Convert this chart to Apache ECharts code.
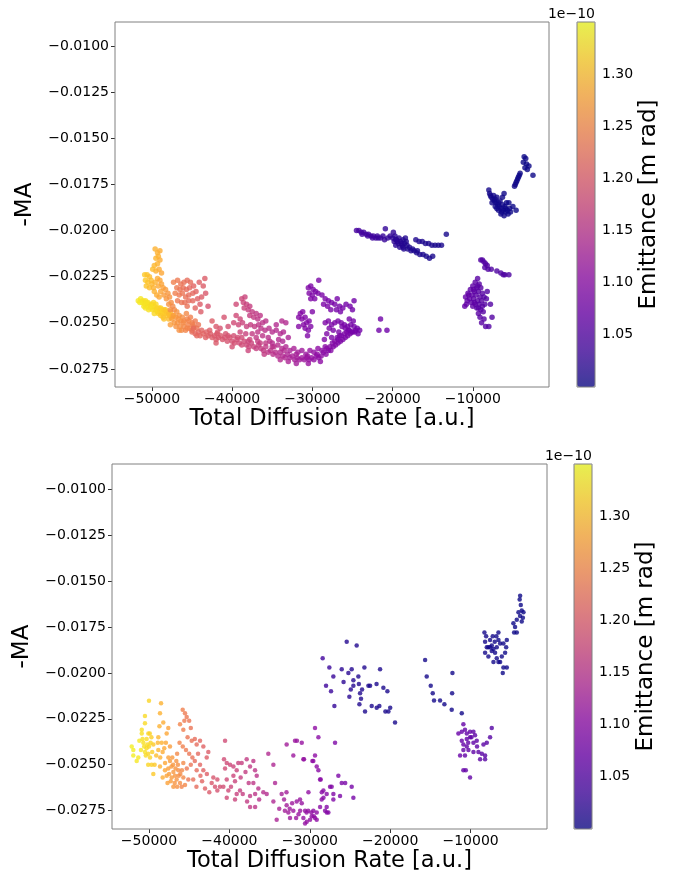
<!DOCTYPE html>
<html><head><meta charset="utf-8">
<script src="https://cdn.jsdelivr.net/npm/echarts@6/dist/echarts.min.js"></script>
<style>html,body{margin:0;padding:0;background:#fff}#c{width:680px;height:876px}</style>
</head><body><div id="c"></div>
<script>
// Each point: [Total Diffusion Rate, -MA, Emittance (x1e-10 m rad)]
// ---------- TOP PANEL ----------
const topYellow = [[-51700,-.0238,1.335],[-51400,-.0237,1.335],[-51100,-.0238,1.33],[-51200,-.0239,1.333],[-50800,-.0238,1.33],[-50900,-.0240,1.332],[-50500,-.0239,1.33],[-50600,-.0241,1.33],[-50300,-.0240,1.328],[-50200,-.0242,1.33],[-50000,-.0240,1.325],[-49900,-.0243,1.327],[-49700,-.0241,1.322],[-49600,-.0243,1.325],[-49400,-.0242,1.32],[-49300,-.0244,1.322],[-49100,-.0242,1.318],[-49000,-.0244,1.32],[-48800,-.0243,1.315],[-48700,-.0245,1.318],[-48500,-.0243,1.31],[-48400,-.0245,1.312],[-48200,-.0244,1.305],[-48100,-.0246,1.308],[-47900,-.0245,1.3],[-47800,-.0246,1.3],[-47600,-.0247,1.295],[-50400,-.0243,1.33],[-49200,-.0245,1.318],[-48900,-.0246,1.31],[-51000,-.0241,1.333],[-49800,-.0239,1.322],[-48600,-.0247,1.305],
[-51500,-.0239,1.335],[-50700,-.0239,1.332],[-50100,-.0241,1.328],[-49500,-.0240,1.322],[-48900,-.0242,1.316],[-48300,-.0243,1.308],[-47700,-.0244,1.298],[-50800,-.0242,1.332],[-49700,-.0245,1.322],[-48500,-.0248,1.305],[-47900,-.0248,1.298],[-47400,-.0246,1.29]];
const topOrangeBranch = [[-49600,-.0210,1.29],[-49300,-.0212,1.29],[-49000,-.0211,1.285],[-49200,-.0214,1.29],[-49500,-.0215,1.292],[-49000,-.0216,1.285],[-49300,-.0218,1.29],[-49700,-.0219,1.295],[-49900,-.0221,1.298],[-49500,-.0222,1.29],[-49100,-.0221,1.285],[-48800,-.0223,1.28],[-50900,-.0224,1.31],[-50600,-.0224,1.305],[-50300,-.0225,1.3],[-50800,-.0227,1.31],[-50500,-.0228,1.305],[-50100,-.0227,1.3],[-50700,-.0230,1.305],[-50300,-.0231,1.3],[-50000,-.0229,1.295],[-49800,-.0231,1.29],[-49600,-.0228,1.29],[-49700,-.0233,1.29],[-49300,-.0226,1.285],[-49000,-.0227,1.28],[-48800,-.0229,1.278],[-49200,-.0230,1.283],[-48600,-.0231,1.275],[-48900,-.0233,1.278],[-49400,-.0235,1.285],[-48300,-.0232,1.27],[-48500,-.0235,1.27],[-48000,-.0234,1.265],[-48200,-.0237,1.265],[-47800,-.0236,1.26],[-47600,-.0239,1.255],[-47900,-.0240,1.26],[-47400,-.0241,1.25],[-47700,-.0243,1.255],[-47200,-.0243,1.25],[-49100,-.0236,1.28]];
const topOrangeBlob = [[-47500,-.0248,1.27],[-47000,-.0247,1.265],[-46600,-.0246,1.26],[-46200,-.0247,1.255],[-47200,-.0250,1.265],[-46800,-.0250,1.26],[-46400,-.0249,1.255],[-46000,-.0249,1.25],[-45600,-.0248,1.245],[-47000,-.0252,1.26],[-46500,-.0252,1.255],[-46000,-.0252,1.25],[-45500,-.0251,1.245],[-45000,-.0250,1.24],[-45800,-.0254,1.245],[-45300,-.0253,1.24],[-44800,-.0252,1.235],[-44400,-.0253,1.23],[-45000,-.0254,1.235],[-46300,-.0254,1.25],[-45700,-.0245,1.25],[-46900,-.0244,1.26],[-44600,-.0249,1.235],[-45200,-.0247,1.24],
[-47300,-.0246,1.27],[-46700,-.0248,1.262],[-46100,-.0250,1.252],[-45400,-.0249,1.245],[-44900,-.0251,1.238],[-45600,-.0253,1.245],[-46600,-.0254,1.258],[-44200,-.0251,1.23],[-47700,-.0251,1.272]];
const topRedPink = [[-47300,-.0228,1.24],[-46800,-.0227,1.235],[-46400,-.0229,1.23],[-46000,-.0228,1.225],[-45600,-.0227,1.22],[-45200,-.0228,1.22],[-46900,-.0231,1.235],[-46500,-.0232,1.23],[-46100,-.0231,1.225],[-45700,-.0232,1.22],[-45300,-.0231,1.215],[-44800,-.0230,1.21],[-47100,-.0234,1.24],[-46600,-.0235,1.235],[-46200,-.0234,1.23],[-45800,-.0236,1.225],[-45400,-.0235,1.22],[-44900,-.0234,1.215],[-44500,-.0233,1.21],[-46800,-.0238,1.235],[-46300,-.0239,1.23],[-45900,-.0239,1.225],[-45400,-.0238,1.22],[-44900,-.0238,1.215],[-44300,-.0237,1.205],[-44000,-.0240,1.2],[-45600,-.0241,1.225],[-44600,-.0242,1.21],[-43400,-.0226,1.2],[-43600,-.0230,1.2],[-43300,-.0234,1.195],[-43800,-.0236,1.2],[-43000,-.0241,1.19],[-44100,-.0228,1.205],[-43900,-.0244,1.2]];
const topBand = [[-45000,-.0255,1.22],[-44600,-.0256,1.215],[-44200,-.0255,1.212],[-44000,-.0257,1.21],[-43600,-.0256,1.21],[-43300,-.0258,1.205],[-43000,-.0257,1.205],[-42700,-.0256,1.2],[-42500,-.0258,1.2],[-42200,-.0257,1.198],[-42000,-.0259,1.198],[-41700,-.0258,1.195],[-41400,-.0257,1.195],[-41200,-.0259,1.192],[-40900,-.0258,1.19],[-40600,-.0260,1.19],[-40300,-.0258,1.188],[-40000,-.0260,1.185],[-39700,-.0261,1.185],[-39400,-.0259,1.182],[-39100,-.0261,1.18],[-38800,-.0262,1.178],[-38500,-.0260,1.178],[-38200,-.0262,1.175],[-37900,-.0263,1.172],[-37600,-.0261,1.17],[-37300,-.0263,1.17],[-37000,-.0264,1.165],[-36700,-.0262,1.165],[-36400,-.0264,1.162],[-36100,-.0265,1.16],[-35800,-.0263,1.158],[-35500,-.0266,1.155],[-35200,-.0265,1.152],[-34900,-.0267,1.15],[-34600,-.0266,1.148],[-34300,-.0268,1.145],[-34000,-.0266,1.142],[-33700,-.0268,1.14],[-33400,-.0269,1.138],[-33100,-.0267,1.135],[-32800,-.0269,1.132],[-32500,-.0268,1.13],[-32200,-.0270,1.128],[-31900,-.0269,1.125],[-31600,-.0270,1.122],[-31300,-.0269,1.12],[-31000,-.0270,1.118],[-30700,-.0269,1.115],[-30400,-.0270,1.112],[-30100,-.0269,1.11],[-29800,-.0270,1.108],[-29500,-.0268,1.106],[-29200,-.0269,1.104],[-28900,-.0268,1.102],[-28600,-.0266,1.1],[-28300,-.0267,1.098],[-28000,-.0265,1.096],[-27700,-.0265,1.095],[-27400,-.0263,1.093],[-27100,-.0262,1.092],[-26800,-.0261,1.09],[-26500,-.0260,1.088],[-26200,-.0259,1.087],[-25900,-.0258,1.086],[-25600,-.0257,1.085],[-25300,-.0256,1.084],[-25000,-.0255,1.083],[-24600,-.0254,1.082],
[-44800,-.0253,1.218],[-43800,-.0254,1.21],[-42800,-.0254,1.202],[-41800,-.0255,1.196],[-40800,-.0256,1.19],[-39800,-.0257,1.184],[-38800,-.0258,1.178],[-37800,-.0259,1.172],[-36800,-.0260,1.165],[-35800,-.0261,1.158],[-34800,-.0263,1.15],[-33800,-.0264,1.142],[-32800,-.0265,1.132],[-31800,-.0266,1.125],[-30800,-.0267,1.116],[-29800,-.0266,1.108],[-28800,-.0265,1.101],[-27800,-.0263,1.095],[-26800,-.0259,1.09],[-26000,-.0256,1.086],[-25400,-.0254,1.084],[-27200,-.0260,1.092],[-28200,-.0264,1.098],[-29300,-.0264,1.105],[-30300,-.0265,1.112],[-31300,-.0265,1.12],[-32300,-.0264,1.13],[-33300,-.0263,1.138],[-34300,-.0262,1.145],[-35300,-.0260,1.152],
[-42000,-.0261,1.198],[-40000,-.0263,1.185],[-38000,-.0265,1.172],[-36000,-.0267,1.16],[-34000,-.0270,1.142],[-32000,-.0272,1.126],[-30500,-.0272,1.114],[-29000,-.0271,1.103],[-33000,-.0271,1.135],
[-44400,-.0257,1.214],[-43200,-.0255,1.206],[-41900,-.0256,1.197],[-40500,-.0257,1.188],[-39300,-.0258,1.182],[-38000,-.0260,1.172],[-36500,-.0261,1.163],[-35000,-.0263,1.15],[-33500,-.0265,1.14],[-32000,-.0267,1.128],[-30600,-.0268,1.115],[-29400,-.0267,1.105],[-28400,-.0263,1.098],[-27500,-.0261,1.093],[-26600,-.0257,1.088],[-25700,-.0255,1.085]];
const topMiddleCloud = [[-38800,-.0237,1.175],[-38400,-.0236,1.17],[-38600,-.0239,1.172],[-38200,-.0240,1.168],[-37800,-.0241,1.165],[-38500,-.0242,1.17],[-38000,-.0243,1.165],[-37500,-.0244,1.16],[-37000,-.0245,1.158],[-37800,-.0246,1.163],[-37300,-.0247,1.16],[-36800,-.0248,1.155],[-39500,-.0246,1.178],[-39000,-.0248,1.175],[-39800,-.0250,1.18],[-39200,-.0251,1.175],[-38700,-.0250,1.17],[-38200,-.0252,1.168],[-37700,-.0251,1.163],[-37200,-.0252,1.16],[-36700,-.0251,1.155],[-36200,-.0250,1.152],[-35800,-.0249,1.15],[-36400,-.0253,1.153],[-35900,-.0254,1.15],[-35400,-.0253,1.148],[-35000,-.0255,1.145],[-34500,-.0254,1.142],[-34000,-.0256,1.14],[-33600,-.0255,1.138],[-33300,-.0250,1.14],[-33800,-.0249,1.142],[-36800,-.0255,1.155],[-37500,-.0256,1.16],[-38300,-.0256,1.168],[-39000,-.0255,1.174],[-40500,-.0252,1.185],[-41500,-.0253,1.19],[-35500,-.0258,1.148],[-34200,-.0259,1.14],[-36200,-.0257,1.152],[-37000,-.0258,1.158],[-33700,-.0260,1.136],[-35000,-.0261,1.145],[-39500,-.0240,1.178],[-36500,-.0246,1.155],[-34500,-.0251,1.143],[-33000,-.0258,1.133],[-42500,-.0249,1.2],[-41000,-.0247,1.19],[-42000,-.0252,1.195]];
const topPurple = [[-30500,-.0231,1.09],[-30200,-.0230,1.088],[-29900,-.0232,1.088],[-30400,-.0234,1.09],[-30000,-.0235,1.088],[-29600,-.0233,1.086],[-29300,-.0234,1.085],[-30200,-.0237,1.09],[-29700,-.0237,1.087],[-29200,-.0227,1.085],
[-28800,-.0235,1.085],[-28400,-.0237,1.084],[-28000,-.0238,1.083],[-28600,-.0240,1.085],[-28100,-.0241,1.084],[-27600,-.0239,1.082],[-27200,-.0240,1.082],[-27700,-.0243,1.083],[-27000,-.0243,1.081],[-26600,-.0241,1.08],[-26200,-.0242,1.08],[-26500,-.0244,1.08],[-25800,-.0240,1.078],[-25300,-.0241,1.078],[-25000,-.0243,1.077],[-24800,-.0238,1.077],[-26900,-.0237,1.081],
[-31500,-.0245,1.095],[-31200,-.0244,1.094],[-31700,-.0247,1.096],[-31300,-.0248,1.094],[-30900,-.0247,1.092],[-31100,-.0251,1.094],[-30700,-.0250,1.092],[-30400,-.0249,1.09],[-30900,-.0253,1.092],[-30500,-.0254,1.09],[-30200,-.0252,1.089],[-30600,-.0257,1.091],[-31700,-.0252,1.096],[-30000,-.0244,1.088],
[-28400,-.0250,1.088],[-28000,-.0249,1.087],[-27600,-.0251,1.086],[-27200,-.0250,1.085],[-26800,-.0249,1.084],[-26400,-.0250,1.083],[-26000,-.0251,1.082],[-25600,-.0252,1.081],[-25200,-.0251,1.08],[-24800,-.0252,1.079],[-24400,-.0253,1.078],[-24100,-.0254,1.078],[-25900,-.0253,1.082],[-25500,-.0254,1.081],[-25100,-.0255,1.08],[-24700,-.0255,1.079],[-26300,-.0252,1.083],[-24900,-.0249,1.079],[-25400,-.0248,1.08],[-27900,-.0253,1.087],[-27400,-.0254,1.086],[-26700,-.0255,1.085],[-26900,-.0258,1.086],[-26400,-.0257,1.085],[-24300,-.0256,1.078],[-28200,-.0256,1.088],[-27600,-.0258,1.087],[-28500,-.0259,1.09],
[-21500,-.0248,1.075],[-21700,-.0254,1.075],[-20700,-.0254,1.074]];
const topBlueLine = [[-24500,-.0200,1.04],[-24200,-.0200,1.04],[-23900,-.0201,1.038],[-23600,-.0201,1.037],[-23300,-.0202,1.036],[-23000,-.0202,1.035],[-22700,-.0203,1.034],[-22400,-.0203,1.033],[-22100,-.0204,1.032],[-21800,-.0204,1.03],[-21500,-.0204,1.03],[-21200,-.0203,1.028],[-20900,-.0199,1.025],[-21000,-.0205,1.028],[-23800,-.0202,1.037],[-23100,-.0203,1.035],[-22500,-.0204,1.033],
[-20300,-.0203,1.025],[-20000,-.0204,1.022],[-19700,-.0203,1.02],[-19800,-.0206,1.022],[-19500,-.0205,1.02],[-19200,-.0204,1.018],[-19300,-.0207,1.018],[-19000,-.0206,1.016],[-18700,-.0205,1.015],[-18800,-.0208,1.015],[-18500,-.0207,1.014],[-18200,-.0208,1.013],[-19600,-.0208,1.02],[-19100,-.0209,1.017],[-18600,-.0210,1.014],[-18100,-.0210,1.012],[-17700,-.0211,1.012],[-17300,-.0211,1.011],[-17000,-.0212,1.01],[-16600,-.0213,1.01],[-16200,-.0213,1.01],[-15800,-.0214,1.008],[-15400,-.0215,1.008],[-15000,-.0214,1.008],[-19900,-.0201,1.023],[-18400,-.0204,1.014],
[-17100,-.0205,1.012],[-16700,-.0206,1.012],[-16300,-.0206,1.011],[-15900,-.0207,1.01],[-15500,-.0207,1.01],[-15100,-.0208,1.009],[-14700,-.0208,1.008],[-14300,-.0208,1.008],[-13900,-.0208,1.008],[-13300,-.0202,1.007],
[-21900,-.0203,1.031],[-20600,-.0204,1.024],[-19400,-.0206,1.019],[-18900,-.0207,1.016],[-18300,-.0206,1.013],[-17900,-.0209,1.012],[-19600,-.0205,1.02],[-18700,-.0209,1.015],[-17500,-.0210,1.011],[-16900,-.0211,1.01]];
const topBlueTopRight = [[-8000,-.0178,1.005],[-7900,-.0180,1.005],[-7700,-.0182,1.004],[-7500,-.0183,1.004],[-7300,-.0184,1.003],[-7100,-.0185,1.003],[-6900,-.0186,1.003],[-6700,-.0187,1.002],[-6500,-.0188,1.002],[-6200,-.0189,1.002],[-5900,-.0190,1.001],[-5600,-.0191,1.001],[-7600,-.0185,1.004],[-7200,-.0187,1.003],[-6800,-.0189,1.003],[-6400,-.0190,1.002],[-6000,-.0187,1.002],[-6600,-.0184,1.002],[-7000,-.0182,1.003],[-6300,-.0182,1.002],[-5800,-.0185,1.001],[-5400,-.0188,1.001],[-5000,-.0187,1.0],[-6100,-.0192,1.002],[-7400,-.0181,1.004],[-6100,-.0180,1.002],[-5500,-.0185,1.001],[-4600,-.0189,1.0],
[-7800,-.0181,1.005],[-7200,-.0183,1.003],[-6800,-.0185,1.003],[-6300,-.0186,1.002],[-5900,-.0188,1.001],[-7000,-.0188,1.003],[-6500,-.0191,1.002],[-5700,-.0189,1.001],[-5300,-.0190,1.001],
[-4800,-.0176,1.002],[-4700,-.0175,1.002],[-4600,-.0174,1.002],[-4500,-.0173,1.002],[-4400,-.0172,1.001],[-4300,-.0171,1.001],[-4200,-.0170,1.001],[-4100,-.0169,1.0],
[-3600,-.0160,1.0],[-3400,-.0161,1.0],[-3700,-.0163,1.0],[-3300,-.0164,1.0],[-3000,-.0165,1.0],[-3500,-.0166,1.0],[-3200,-.0167,1.0],[-2500,-.0170,1.0]];
const topPurpleRight = [[-10900,-.0236,1.065],[-10600,-.0234,1.062],[-10300,-.0232,1.06],[-10000,-.0230,1.058],[-9700,-.0228,1.057],[-9400,-.0226,1.056],[-9200,-.0229,1.055],[-9500,-.0231,1.057],[-9800,-.0233,1.058],[-10100,-.0235,1.06],[-10400,-.0237,1.062],[-10700,-.0238,1.063],[-10200,-.0239,1.06],[-9900,-.0237,1.058],[-9600,-.0235,1.057],[-9300,-.0233,1.055],[-9000,-.0231,1.054],[-8800,-.0234,1.053],[-9100,-.0236,1.055],[-9400,-.0238,1.056],[-9700,-.0240,1.058],[-10000,-.0241,1.06],[-9500,-.0242,1.057],[-9200,-.0240,1.055],[-8900,-.0238,1.054],[-8600,-.0236,1.052],[-8300,-.0237,1.05],[-9000,-.0243,1.055],[-9300,-.0245,1.056],[-8700,-.0244,1.053],[-8500,-.0240,1.052],[-8200,-.0233,1.05],[-9100,-.0247,1.055],[-8600,-.0248,1.053],[-8900,-.0250,1.054],[-8400,-.0252,1.052],[-8000,-.0252,1.05],[-7800,-.0240,1.05],[-7600,-.0247,1.05],[-11000,-.0241,1.066],
[-10500,-.0235,1.062],[-9900,-.0232,1.058],[-9400,-.0230,1.056],[-9800,-.0239,1.058],[-9300,-.0242,1.056],[-10800,-.0240,1.064],[-8800,-.0241,1.053],
[-9000,-.0216,1.05],[-8800,-.0216,1.05],[-8600,-.0217,1.05],[-8400,-.0218,1.049],[-8200,-.0219,1.049],[-8500,-.0220,1.05],[-8100,-.0221,1.048],[-7700,-.0221,1.047],[-7000,-.0222,1.046],[-6500,-.0223,1.045],[-6000,-.0224,1.045],[-5500,-.0224,1.044],[-6200,-.0224,1.045]];

// ---------- BOTTOM PANEL ----------
const botYellow = [[-50000,-.02151,1.32],[-50500,-.02234,1.325],[-50900,-.0231,1.33],[-50500,-.02274,1.325],[-50900,-.0233,1.33],[-50080,-.0233,1.32],[-52150,-.0240,1.34],[-51950,-.0242,1.34],[-51950,-.0245,1.34],[-51330,-.0246,1.335],[-51530,-.0248,1.335],[-50700,-.0238,1.33],[-50500,-.0243,1.33],[-50290,-.0236,1.325],[-49870,-.0246,1.32],[-49670,-.0250,1.315],[-49460,-.0255,1.31],[-49460,-.0239,1.31],[-50600,-.0240,1.33],[-50300,-.0241,1.325],[-50000,-.0240,1.32],[-49800,-.0238,1.32],[-50200,-.0239,1.325],[-50800,-.0236,1.33],[-49700,-.0235,1.315],[-50100,-.0244,1.32],[-51000,-.0242,1.335],[-50400,-.0245,1.325],[-49300,-.0250,1.31],[-51200,-.0237,1.335],[-50100,-.0250,1.32],[-49600,-.0243,1.315],[-49900,-.0233,1.318]];
const botOrange = [[-48500,-.02165,1.29],[-48630,-.0222,1.29],[-48220,-.0227,1.285],[-47800,-.0233,1.28],[-48840,-.0235,1.295],[-48420,-.0238,1.29],[-47900,-.0238,1.28],[-47390,-.0240,1.27],[-48840,-.0242,1.295],[-48300,-.0243,1.285],[-47590,-.0246,1.275],[-48630,-.0251,1.29],[-48010,-.0253,1.28],[-47390,-.0248,1.27],[-47200,-.0251,1.268],[-46970,-.0254,1.265],[-46760,-.0256,1.262],[-47180,-.0257,1.268],[-46560,-.0258,1.26],[-46970,-.0262,1.265],[-46350,-.0253,1.255],[-46100,-.0255,1.252],[-45730,-.0249,1.25],[-45730,-.0257,1.25],[-46140,-.0260,1.255],[-45520,-.0261,1.248],[-47500,-.0255,1.27],[-47000,-.0250,1.265],[-46700,-.0252,1.262],[-47300,-.0259,1.27],[-46800,-.0260,1.262],[-46400,-.0250,1.258],[-47600,-.0252,1.272],[-46300,-.0256,1.256],[-47800,-.0256,1.276],[-46600,-.0248,1.26],[-47100,-.0246,1.266],[-48600,-.0246,1.29],[-48000,-.0249,1.28],[-48900,-.0238,1.295],[-48100,-.0241,1.282],[-45900,-.0253,1.25],[-46500,-.0262,1.258],[-47700,-.0260,1.275],[-48300,-.0257,1.285],[-49100,-.0245,1.3],[-48700,-.0229,1.29],[-47600,-.0230,1.275]];
const botRedPink = [[-45810,-.0220,1.24],[-45520,-.0222,1.235],[-45310,-.0224,1.232],[-45600,-.0226,1.235],[-46140,-.0228,1.245],[-45730,-.0231,1.238],[-45200,-.0235,1.23],[-44690,-.0237,1.225],[-44300,-.0236,1.22],[-44070,-.0239,1.218],[-43650,-.0237,1.212],[-43240,-.0240,1.208],[-42620,-.0243,1.2],[-42820,-.0246,1.203],[-46200,-.0238,1.245],[-45800,-.0240,1.24],[-45400,-.0242,1.235],[-45000,-.0244,1.23],[-44600,-.0246,1.225],[-44070,-.0253,1.218],[-43650,-.0250,1.212],[-43240,-.0253,1.208],[-42800,-.0255,1.203],[-43600,-.0256,1.212],[-45110,-.0258,1.23],[-44500,-.0258,1.222],[-45300,-.0252,1.232],[-45940,-.0262,1.245],[-43400,-.0259,1.21],[-42200,-.0260,1.195],[-41790,-.0262,1.19],[-41500,-.0264,1.188],[-41170,-.0262,1.185],[-43030,-.0263,1.205],[-44100,-.0262,1.218],[-42500,-.0265,1.198],[-44800,-.0250,1.228],[-44300,-.0248,1.22],[-42000,-.0257,1.192],[-43900,-.0244,1.215],[-44800,-.0230,1.228],[-45000,-.0226,1.23],[-46500,-.0244,1.25],[-41500,-.0258,1.188]];
const botMagenta = [[-40540,-.0237,1.18],[-40670,-.0247,1.18],[-40330,-.0249,1.178],[-39920,-.0250,1.175],[-39500,-.0251,1.172],[-39090,-.0253,1.17],[-40540,-.0252,1.18],[-40330,-.0258,1.178],[-40750,-.0262,1.182],[-40130,-.0264,1.176],[-39500,-.0256,1.172],[-39300,-.0259,1.17],[-38680,-.0264,1.165],[-39090,-.0266,1.168],[-40330,-.0268,1.178],[-39300,-.0269,1.17],[-37850,-.0247,1.16],[-38470,-.0249,1.164],[-37430,-.0251,1.158],[-37020,-.0248,1.155],[-36810,-.0253,1.153],[-36600,-.0256,1.15],[-37020,-.0260,1.155],[-37600,-.0260,1.158],[-38340,-.0266,1.163],[-37430,-.0267,1.158],[-36800,-.0266,1.153],[-36400,-.0263,1.15],[-37430,-.0273,1.158],[-36800,-.0273,1.153],[-35780,-.0265,1.145],[-35360,-.0266,1.142],[-35160,-.0244,1.14],[-34530,-.0250,1.137],[-34320,-.0260,1.135],[-34530,-.0270,1.137],[-34120,-.0280,1.133],[-38000,-.0254,1.162],[-38600,-.0257,1.165],[-37800,-.0270,1.16],[-36300,-.0269,1.148],[-39800,-.0262,1.174],[-38900,-.0249,1.168]];
const botPurpleMagenta = [[-33500,-.0266,1.128],[-32900,-.0265,1.124],[-33200,-.0269,1.126],[-32880,-.0272,1.124],[-32500,-.0274,1.12],[-33100,-.0275,1.125],[-32670,-.0276,1.122],[-32050,-.0275,1.118],[-32460,-.0279,1.12],[-31630,-.0270,1.115],[-31000,-.0271,1.112],[-31200,-.0275,1.113],[-30590,-.0275,1.11],[-30200,-.0275,1.108],[-29800,-.0276,1.106],[-30380,-.0281,1.108],[-29500,-.0278,1.105],[-29140,-.0280,1.104],[-28720,-.0273,1.1],[-30170,-.0265,1.108],[-32880,-.0239,1.124],[-31840,-.0237,1.116],[-31600,-.0237,1.115],[-31000,-.0238,1.112],[-32050,-.0245,1.118],[-30720,-.0247,1.11],[-29680,-.0248,1.106],[-29350,-.0245,1.104],[-28930,-.0253,1.1],[-28640,-.0258,1.098],[-28510,-.0265,1.098],[-28300,-.0268,1.096],[-27890,-.0276,1.094],[-27480,-.0262,1.092],[-27070,-.0266,1.09],[-31700,-.0279,1.116],[-32200,-.0271,1.12],[-33800,-.0274,1.13],[-31400,-.0277,1.114],[-30800,-.0279,1.111]];
const botPurple = [[-29350,-.0230,1.104],[-28930,-.0235,1.1],[-30800,-.0247,1.11],[-29560,-.0248,1.105],[-29140,-.0251,1.103],[-28730,-.0258,1.1],[-28310,-.0264,1.097],[-28520,-.0269,1.098],[-27900,-.0266,1.095],[-27280,-.0262,1.092],[-26860,-.0238,1.088],[-26450,-.0256,1.087],[-26030,-.0260,1.085],[-25600,-.0260,1.083],[-24790,-.0262,1.08],[-24580,-.0268,1.08],[-26240,-.0267,1.086],[-27070,-.0269,1.09],[-27900,-.0273,1.094],[-27690,-.0276,1.093],[-28100,-.0275,1.095],[-29560,-.0275,1.105],[-30400,-.0276,1.109],[-29760,-.0278,1.106],[-29140,-.0276,1.103],[-29350,-.0279,1.104],[-29970,-.0280,1.107],[-30590,-.0282,1.11],[-31216,-.0269,1.113]];
const botBlueMid = [[-25410,-.0183,1.015],[-24170,-.0185,1.013],[-28400,-.0192,1.035],[-27570,-.0197,1.03],[-27070,-.0202,1.028],[-26030,-.0198,1.02],[-24790,-.0198,1.015],[-25200,-.0200,1.018],[-23210,-.0197,1.012],[-21260,-.0198,1.01],[-27980,-.0207,1.032],[-27360,-.0210,1.03],[-26940,-.0218,1.025],[-25080,-.0213,1.018],[-24580,-.0207,1.015],[-23960,-.0202,1.013],[-23900,-.0206,1.013],[-23750,-.0211,1.012],[-23830,-.0217,1.012],[-23130,-.0221,1.01],[-22710,-.0207,1.01],[-22500,-.0207,1.01],[-22300,-.0218,1.01],[-21680,-.0219,1.009],[-21350,-.0218,1.009],[-20850,-.0208,1.008],[-20350,-.0210,1.008],[-20220,-.0221,1.008],[-20600,-.0221,1.008],[-20000,-.0219,1.007],[-19400,-.0227,1.006],[-24580,-.0204,1.015],[-23630,-.0214,1.012],[-25800,-.0205,1.02],[-24900,-.0209,1.017],[-21700,-.0206,1.01],[-23500,-.0209,1.012]];
const botBlueLine = [[-15660,-.0193,1.005],[-15460,-.0202,1.005],[-14960,-.0207,1.004],[-14710,-.0211,1.004],[-14550,-.0215,1.004],[-13800,-.0215,1.003],[-13260,-.0217,1.003],[-12260,-.0200,1.003],[-12300,-.0211,1.003],[-12350,-.0220,1.003],[-11100,-.0222,1.002]];
const botPurpleRight = [[-10900,-.0228,1.065],[-11520,-.0233,1.068],[-11100,-.0232,1.066],[-10700,-.0231,1.064],[-10480,-.0233,1.063],[-10070,-.0232,1.062],[-9650,-.0232,1.06],[-9450,-.0234,1.06],[-10070,-.0235,1.062],[-10480,-.0236,1.063],[-11100,-.0237,1.066],[-10900,-.0239,1.065],[-10480,-.0240,1.063],[-9650,-.0238,1.06],[-9240,-.0237,1.058],[-10900,-.0242,1.065],[-10270,-.0242,1.062],[-9650,-.0243,1.06],[-9030,-.0243,1.058],[-8610,-.0244,1.056],[-8200,-.0245,1.055],[-8400,-.0239,1.056],[-7990,-.0238,1.054],[-7580,-.0235,1.052],[-7370,-.0230,1.05],[-11310,-.0245,1.068],[-10700,-.0245,1.064],[-8820,-.0247,1.057],[-8200,-.0247,1.055],[-10900,-.0253,1.065],[-10600,-.0253,1.064],[-10070,-.0257,1.062],[-9900,-.0235,1.061],[-10300,-.0238,1.062],[-9200,-.0240,1.058]];
const botBlueTopRight = [[-3840,-.0158,1.0],[-3900,-.0160,1.0],[-3760,-.0163,1.0],[-3640,-.0166,1.0],[-3430,-.0167,1.0],[-4050,-.0167,1.0],[-3850,-.0169,1.0],[-4260,-.0171,1.0],[-3640,-.0172,1.0],[-4680,-.0173,1.0],[-4470,-.0175,1.0],[-4590,-.0178,1.0],[-4260,-.0178,1.0],[-3500,-.0170,1.0],
[-8280,-.0178,1.005],[-8070,-.0180,1.005],[-7580,-.0182,1.004],[-8200,-.0183,1.005],[-7990,-.0186,1.005],[-7370,-.0185,1.004],[-7160,-.0187,1.003],[-6540,-.0178,1.003],[-6540,-.0182,1.003],[-6330,-.0184,1.002],[-5920,-.0184,1.002],[-5500,-.0182,1.001],[-5580,-.0186,1.001],[-5710,-.0189,1.001],[-6120,-.0191,1.002],[-6330,-.0194,1.002],[-5920,-.0197,1.001],[-5500,-.0197,1.001],[-6000,-.0200,1.001],[-8200,-.0189,1.005],[-7790,-.0191,1.004],[-7370,-.0188,1.004],[-6960,-.0189,1.003],[-6750,-.0192,1.003],[-7160,-.0194,1.003],[-6540,-.0194,1.003],[-7790,-.0186,1.004],[-7580,-.0186,1.004],[-6750,-.0186,1.003],[-7250,-.0180,1.004],[-7000,-.0183,1.003],[-6800,-.0180,1.003]];

// ---------- AXES / TICKS ----------
const xTicks = [-50000, -40000, -30000, -20000, -10000];
const yTicks = [-0.0275, -0.0250, -0.0225, -0.0200, -0.0175, -0.0150, -0.0125, -0.0100];
const cbTicks = [1.05, 1.10, 1.15, 1.20, 1.25, 1.30];
const plasma = ['#0d0887','#41049d','#6a00a8','#8f0da4','#b12a90','#cc4778','#e16462','#f2844b','#fca636','#fcce25','#f0f921'];

const topData = [].concat(topYellow, topOrangeBranch, topOrangeBlob, topRedPink, topBand, topMiddleCloud, topPurple, topBlueLine, topBlueTopRight, topPurpleRight);
const botData = [].concat(botYellow, botOrange, botRedPink, botMagenta, botPurpleMagenta, botPurple, botBlueMid, botBlueLine, botPurpleRight, botBlueTopRight);

const FONT = 'DejaVu Sans';
const TICK_FS = 14, TITLE_FS = 22.5;
const minus = s => s.replace('-', '\u2212');
const rgba = (h, a) => 'rgba(' + parseInt(h.slice(1,3),16) + ',' + parseInt(h.slice(3,5),16) + ',' + parseInt(h.slice(5,7),16) + ',' + a + ')';
const barMap = plasma.map(c => rgba(c, 0.75));
const frame = '#808080';

const G = [
  {left:115, top:22, width:434, height:365},
  {left:112, top:464, width:435, height:365},
  {left:577, top:22, width:18, height:365},
  {left:574, top:464, width:18, height:365}
];
const grid = G.map((g, i) => Object.assign({show:true, borderColor:frame, borderWidth:1, backgroundColor:'transparent', z: i >= 2 ? 10 : 2}, g));

function xAx(i) {
  return {gridIndex:i, type:'value', min:-54600, max:-500,
    axisLine:{show:false}, splitLine:{show:false},
    axisTick:{show:true, length:4, lineStyle:{color:'#333'}, customValues:xTicks},
    axisLabel:{customValues:xTicks, fontFamily:FONT, fontSize:TICK_FS, color:'#000', margin:5, formatter:v=>minus(String(v))},
    name:'Total Diffusion Rate [a.u.]', nameLocation:'middle', nameGap:21,
    nameTextStyle:{fontFamily:FONT, fontSize:TITLE_FS, color:'#000'}};
}
function yAx(i, mn, mx) {
  return {gridIndex:i, type:'value', min:mn, max:mx,
    axisLine:{show:false}, splitLine:{show:false},
    axisTick:{show:true, length:4, lineStyle:{color:'#333'}, customValues:yTicks},
    axisLabel:{customValues:yTicks, fontFamily:FONT, fontSize:TICK_FS, color:'#000', margin:6, formatter:v=>minus(v.toFixed(4))},
    name:'-MA', nameLocation:'middle', nameGap:78, nameRotate:90,
    nameTextStyle:{fontFamily:FONT, fontSize:23, color:'#000'}};
}
function cbX(i) { return {gridIndex:i, type:'value', show:false, min:0, max:1}; }
function cbY(i) {
  return {gridIndex:i, type:'value', position:'right', min:1.0, max:1.35,
    axisLine:{show:false}, splitLine:{show:false},
    axisTick:{show:true, length:4, lineStyle:{color:'#333'}, customValues:cbTicks},
    axisLabel:{customValues:cbTicks, fontFamily:FONT, fontSize:TICK_FS, color:'#000', margin:7, formatter:v=>v.toFixed(2)},
    name:'Emittance [m rad]', nameLocation:'middle', nameGap:42, nameRotate:90,
    nameTextStyle:{fontFamily:FONT, fontSize:23, color:'#000'}};
}

const option = {
  animation:false,
  backgroundColor:'#fff',
  title:[
    {text:'1e\u221210', right:85, top:7, padding:0, textStyle:{fontFamily:FONT, fontSize:TICK_FS, fontWeight:'normal', color:'#000'}},
    {text:'1e\u221210', right:88, top:449, padding:0, textStyle:{fontFamily:FONT, fontSize:TICK_FS, fontWeight:'normal', color:'#000'}}
  ],
  grid:grid,
  xAxis:[xAx(0), xAx(1), cbX(2), cbX(3)],
  yAxis:[yAx(0, -0.02848, -0.0087), yAx(1, -0.0285, -0.00862), cbY(2), cbY(3)],
  visualMap:[
    // colour mapping of the points (opaque plasma)
    {type:'continuous', show:false, seriesIndex:[0,1], dimension:2, min:1.0, max:1.35, inRange:{color:plasma}},
    // visible colour bars (faded, as in the reference)
    {type:'continuous', seriesIndex:2, dimension:0, min:1.0, max:1.35, inRange:{color:barMap},
     left:577, top:22, itemWidth:18, itemHeight:365, padding:0, calculable:false, hoverLink:false, text:null},
    {type:'continuous', seriesIndex:3, dimension:0, min:1.0, max:1.35, inRange:{color:barMap},
     left:574, top:464, itemWidth:18, itemHeight:365, padding:0, calculable:false, hoverLink:false, text:null}
  ],
  series:[
    {type:'scatter', xAxisIndex:0, yAxisIndex:0, data:topData, symbolSize:5.5, itemStyle:{opacity:0.8, borderWidth:0}},
    {type:'scatter', xAxisIndex:1, yAxisIndex:1, data:botData, symbolSize:4.5, itemStyle:{opacity:0.8, borderWidth:0}},
    {type:'scatter', xAxisIndex:2, yAxisIndex:2, data:[]},
    {type:'scatter', xAxisIndex:3, yAxisIndex:3, data:[]}
  ]
};
const chart = echarts.init(document.getElementById('c'), null, {renderer:'canvas'});
chart.setOption(option);
</script>
</body></html>
